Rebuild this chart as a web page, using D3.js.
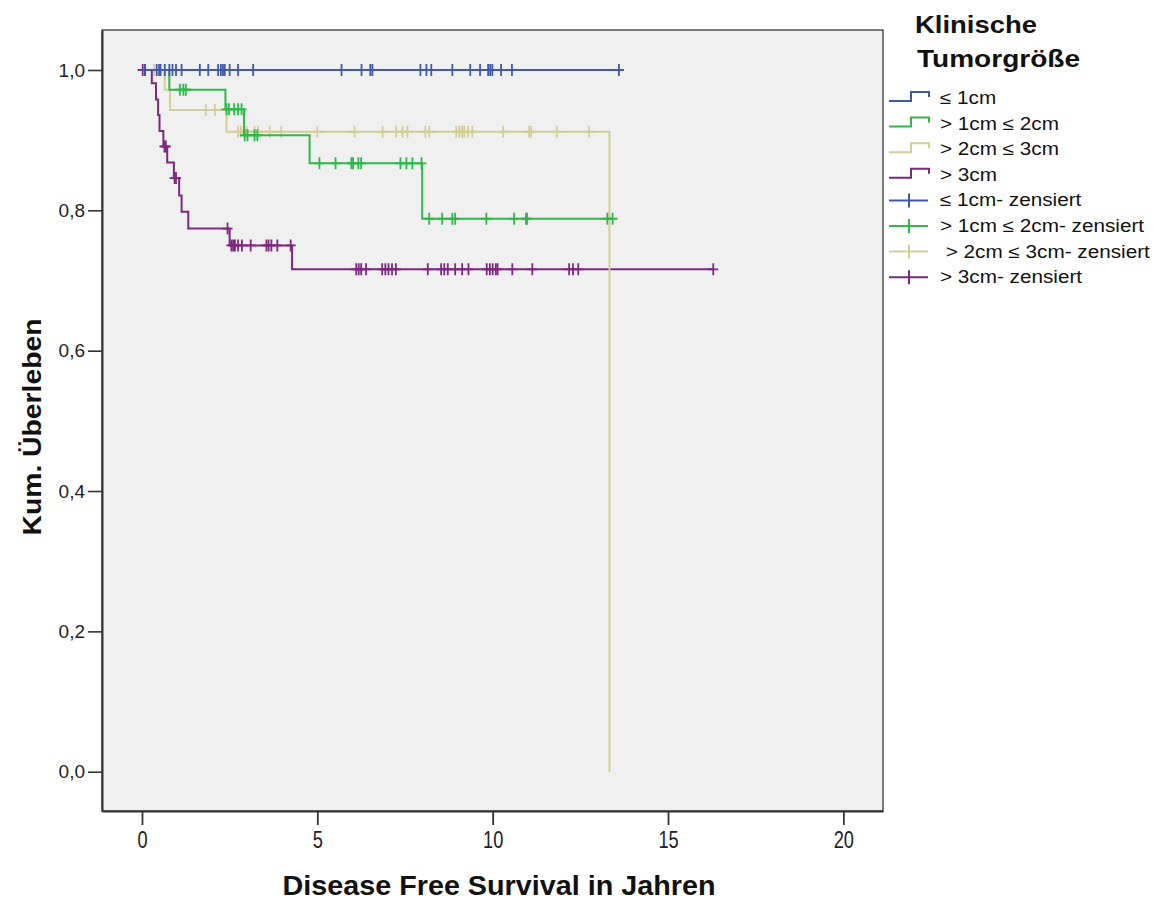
<!DOCTYPE html>
<html>
<head>
<meta charset="utf-8">
<script src="https://cdn.jsdelivr.net/npm/d3@7"></script>
<style>
  body { margin: 0; background: #ffffff; }
  text { font-family: "Liberation Sans", Arial, Helvetica, sans-serif; }
</style>
</head>
<body>
<svg id="chart" width="1159" height="900"></svg>
<script>
// ---- data -------------------------------------------------------------
const groupLabels = ["≤ 1cm", "> 1cm ≤ 2cm", "> 2cm ≤ 3cm", "> 3cm"];
const censoredLabels = ["≤ 1cm- zensiert", "> 1cm ≤ 2cm- zensiert", " > 2cm ≤ 3cm- zensiert", "> 3cm- zensiert"];
const groupColors = ["#3E58AC", "#2EB848", "#D3CE97", "#7C287D"];

// Kaplan-Meier steps per group: [time in years, survival after the event]
const stepsLe1 = [];
const steps1to2 = [[0.78, 0.972], [2.38, 0.944], [2.91, 0.907], [4.78, 0.867], [7.99, 0.788]];
const steps2to3 = [[0.65, 0.972], [0.80, 0.943], [2.41, 0.912], [13.33, 0.0]];
const stepsGt3 = [[0.28, 0.981], [0.40, 0.958], [0.46, 0.936], [0.50, 0.913], [0.61, 0.891],
                  [0.72, 0.868], [0.91, 0.846], [1.06, 0.821], [1.13, 0.798], [1.32, 0.774],
                  [2.50, 0.750], [4.28, 0.716]];

// censored observations per group (years)
const censLe1 = [0.09, 0.42, 0.49, 0.53, 0.65, 0.78, 0.87, 0.97, 1.13, 1.65, 1.89, 2.17, 2.25,
                 2.31, 2.36, 2.50, 2.74, 3.17, 5.69, 6.26, 6.51, 6.57, 7.94, 8.11, 8.25, 8.85,
                 9.36, 9.64, 9.87, 9.93, 9.99, 10.24, 10.55, 13.60];
const cens1to2 = [1.08, 1.18, 1.25, 2.41, 2.48, 2.63, 2.74, 2.84, 2.93, 3.01, 3.21, 3.29, 5.06,
                  5.52, 5.97, 6.02, 6.17, 6.25, 7.37, 7.54, 7.71, 7.97, 8.19, 8.56, 8.85, 8.93,
                  9.82, 10.61, 10.95, 10.98, 13.27, 13.42];
const cens2to3 = [0.34, 1.82, 2.08, 2.74, 2.82, 2.98, 3.21, 3.31, 3.64, 3.97, 5.00, 6.06, 6.86,
                  7.25, 7.43, 7.57, 8.08, 8.19, 8.96, 9.05, 9.13, 9.19, 9.30, 9.42, 10.30, 11.04,
                  11.10, 11.83, 12.75];
const censGt3 = [0.02, 0.08, 0.64, 0.68, 0.93, 0.97, 2.44, 2.55, 2.60, 2.65, 2.74, 2.85, 3.10,
                 3.55, 3.61, 3.69, 3.86, 4.24, 6.11, 6.18, 6.25, 6.39, 6.85, 6.94, 7.03, 7.13,
                 7.24, 8.15, 8.53, 8.62, 8.72, 8.93, 9.13, 9.31, 9.83, 9.92, 10.00, 10.09, 10.14,
                 10.56, 11.13, 12.18, 12.29, 12.44, 16.29];

const xTicks = [0, 5, 10, 15, 20];
const yTicks = [0.0, 0.2, 0.4, 0.6, 0.8, 1.0];

const legendTitle = ["Klinische", "Tumorgröße"];
const xTitle = "Disease Free Survival in Jahren";
const yTitle = "Kum. Überleben";

// ---- layout -----------------------------------------------------------
const svg = d3.select("#chart");
const plot = { left: 102, right: 883, top: 30, bottom: 811 };

const x = d3.scaleLinear().domain([-1.14, 21.13]).range([plot.left, plot.right]);
const y = d3.scaleLinear().domain([-0.056, 1.057]).range([plot.bottom, plot.top]);

// stretch a text element horizontally by a factor or to a fixed width
function fitText(sel, factor, width) {
  sel.each(function () {
    const w = width != null ? width : this.getComputedTextLength() * factor;
    d3.select(this).attr("textLength", w).attr("lengthAdjust", "spacingAndGlyphs");
  });
}

// plot background + frame
svg.append("rect")
  .attr("x", plot.left).attr("y", plot.top)
  .attr("width", plot.right - plot.left).attr("height", plot.bottom - plot.top)
  .attr("fill", "#F0F0F0").attr("stroke", "#3a3a3a").attr("stroke-width", 1.3);

// y axis
const yAxis = d3.axisLeft(y).tickValues(yTicks).tickSizeInner(14).tickSizeOuter(0).tickPadding(3)
  .tickFormat(d => d3.format(".1f")(d).replace(".", ","));
const gy = svg.append("g").attr("transform", `translate(${plot.left},0)`).call(yAxis);
gy.select(".domain").attr("stroke", "#333").attr("stroke-width", 2);
gy.selectAll(".tick line").attr("stroke", "#333").attr("stroke-width", 1.6);
gy.selectAll(".tick text").attr("font-size", 19).attr("fill", "#222")
  .attr("font-family", "'Liberation Sans', Arial, sans-serif");

// x axis (ticks hanging below the frame)
const xAxis = d3.axisBottom(x).tickValues(xTicks).tickSizeInner(14).tickSizeOuter(0).tickPadding(6)
  .tickFormat(d3.format("d"));
const gx = svg.append("g").attr("transform", `translate(0,${plot.bottom})`).call(xAxis);
gx.select(".domain").attr("stroke", "#333").attr("stroke-width", 2);
gx.selectAll(".tick line").attr("stroke", "#333").attr("stroke-width", 1.8);
gx.selectAll(".tick text").attr("font-size", 24).attr("fill", "#222")
  .attr("font-family", "'Liberation Sans', Arial, sans-serif");
fitText(gx.selectAll(".tick text"), 0.76);

// axis titles
svg.append("text")
  .attr("x", 499).attr("y", 895).attr("text-anchor", "middle")
  .attr("font-size", 28).attr("font-weight", "bold").attr("fill", "#111")
  .text(xTitle).call(fitText, null, 433);

svg.append("text")
  .attr("transform", "translate(41,427) rotate(-90)").attr("text-anchor", "middle")
  .attr("font-size", 25).attr("font-weight", "bold").attr("fill", "#111")
  .text(yTitle).call(fitText, null, 217);

// ---- survival curves ----------------------------------------------------
const series = [
  { steps: stepsLe1, cens: censLe1, color: groupColors[0] },
  { steps: steps1to2, cens: cens1to2, color: groupColors[1] },
  { steps: steps2to3, cens: cens2to3, color: groupColors[2] },
  { steps: stepsGt3, cens: censGt3, color: groupColors[3] }
];

function survivalAt(steps, t) {
  let s = 1;
  for (const [te, se] of steps) if (te <= t) s = se;
  return s;
}

function stepPoints(steps, cens) {
  const pts = [[0, 1]];
  let s = 1;
  for (const [te, se] of steps) {
    pts.push([te, s]);
    pts.push([te, se]);
    s = se;
  }
  const lastEvent = steps.length ? steps[steps.length - 1][0] : 0;
  const end = Math.max(lastEvent, d3.max(cens));
  if (end > lastEvent) pts.push([end, s]);
  return pts;
}

const line = d3.line().x(d => x(d[0])).y(d => y(d[1]));
const drawOrder = [3, 2, 1, 0];

drawOrder.forEach(i => {
  const sr = series[i];
  const g = svg.append("g").attr("class", "km-group");
  g.append("path")
    .attr("d", line(stepPoints(sr.steps, sr.cens)))
    .attr("fill", "none").attr("stroke", sr.color).attr("stroke-width", 2)
    .attr("stroke-linejoin", "miter");
  g.selectAll("path.cens").data(sr.cens).enter().append("path")
    .attr("class", "cens")
    .attr("d", t => {
      const cx = x(t), cy = y(survivalAt(sr.steps, t));
      return `M${cx},${cy - 6}V${cy + 6}M${cx - 5},${cy}H${cx + 5}`;
    })
    .attr("fill", "none").attr("stroke", sr.color).attr("stroke-width", 1.8);
});

// ---- legend -------------------------------------------------------------
const lg = svg.append("g").attr("class", "legend");
lg.append("text").attr("x", 915).attr("y", 33)
  .attr("font-size", 23).attr("font-weight", "bold").attr("fill", "#111")
  .text(legendTitle[0]).call(fitText, null, 122);
lg.append("text").attr("x", 917).attr("y", 67)
  .attr("font-size", 23).attr("font-weight", "bold").attr("fill", "#111")
  .text(legendTitle[1]).call(fitText, null, 163);

const rowY0 = 104, rowStep = 25.6;
const legendRows = [
  ...groupLabels.map((l, i) => ({ label: l, color: groupColors[i], kind: "step" })),
  ...censoredLabels.map((l, i) => ({ label: l, color: groupColors[i], kind: "cens" }))
];

legendRows.forEach((r, k) => {
  const base = rowY0 + k * rowStep;
  const cy = base - 6;
  if (r.kind === "step") {
    lg.append("path")
      .attr("d", `M889,${cy + 3}H911V${cy - 6}H929V${cy - 1}`)
      .attr("fill", "none").attr("stroke", r.color).attr("stroke-width", 2);
  } else {
    lg.append("path")
      .attr("d", `M889,${cy}H928M909,${cy - 7}V${cy + 7}`)
      .attr("fill", "none").attr("stroke", r.color).attr("stroke-width", 2);
  }
  lg.append("text").attr("x", 940).attr("y", base)
    .attr("font-size", 18).attr("fill", "#111")
    .style("white-space", "pre")
    .text(r.label).call(fitText, 1.15);
});
</script>
</body>
</html>
